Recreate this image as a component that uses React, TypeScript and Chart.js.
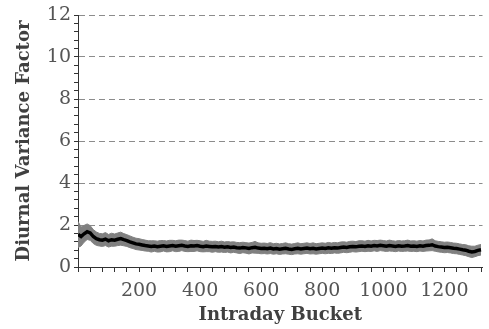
import React, { useEffect, useRef } from "react";
import { Chart, registerables } from "chart.js";

Chart.register(...registerables);

// Intraday bucket index (every 10 buckets)
const buckets: number[] = [];
for (let b = 0; b <= 1320; b += 10) buckets.push(b);

// Mean diurnal variance factor
const meanFactor: number[] = [
  1.55, 1.45, 1.58, 1.68, 1.62, 1.45, 1.35, 1.30, 1.28, 1.33,
  1.25, 1.30, 1.28, 1.32, 1.35, 1.30, 1.26, 1.20, 1.15, 1.10,
  1.08, 1.05, 1.02, 1.00, 0.98, 1.00, 0.97, 0.99, 1.01, 0.98,
  1.00, 1.02, 0.99, 1.01, 1.03, 1.00, 0.98, 1.01, 1.00, 1.02,
  0.99, 0.97, 1.00, 0.98, 0.96, 0.98, 0.95, 0.97, 0.94, 0.96,
  0.93, 0.95, 0.92, 0.90, 0.93, 0.91, 0.88, 0.92, 0.94, 0.90,
  0.88, 0.89, 0.87, 0.90, 0.86, 0.88, 0.85, 0.87, 0.89, 0.86,
  0.84, 0.87, 0.89, 0.86, 0.88, 0.90, 0.87, 0.89, 0.86, 0.88,
  0.90, 0.88, 0.91, 0.89, 0.92, 0.90, 0.93, 0.95, 0.93, 0.96,
  0.98, 0.96, 0.99, 1.00, 0.98, 1.01, 0.99, 1.02, 1.00, 1.03,
  1.01, 0.99, 1.02, 1.00, 0.98, 1.01, 0.99, 1.00, 1.02, 0.99,
  1.00, 0.98, 1.01, 0.99, 1.02, 1.03, 1.06, 1.00, 0.97, 0.95,
  0.93, 0.94, 0.92, 0.89, 0.88, 0.85, 0.82, 0.80, 0.75, 0.72,
  0.74, 0.79, 0.82,
];

// Half-width of the grey band
const bandHalfWidth: number[] = [
  0.62, 0.45, 0.40, 0.37, 0.35, 0.33, 0.32, 0.30, 0.30, 0.31,
  0.30, 0.31, 0.29, 0.30, 0.31, 0.29, 0.28, 0.28, 0.27, 0.27,
  0.27, 0.26, 0.26, 0.25, 0.27, 0.25, 0.26, 0.27, 0.25, 0.26,
  0.27, 0.25, 0.26, 0.27, 0.25, 0.26, 0.25, 0.27, 0.26, 0.25,
  0.26, 0.25, 0.27, 0.25, 0.26, 0.25, 0.25, 0.26, 0.25, 0.25,
  0.26, 0.25, 0.25, 0.26, 0.25, 0.25, 0.26, 0.25, 0.28, 0.25,
  0.25, 0.25, 0.25, 0.26, 0.25, 0.25, 0.25, 0.25, 0.26, 0.25,
  0.25, 0.25, 0.26, 0.25, 0.25, 0.25, 0.25, 0.26, 0.25, 0.25,
  0.25, 0.25, 0.26, 0.25, 0.25, 0.25, 0.26, 0.25, 0.25, 0.26,
  0.25, 0.25, 0.26, 0.25, 0.25, 0.26, 0.25, 0.25, 0.26, 0.25,
  0.25, 0.25, 0.26, 0.25, 0.25, 0.25, 0.25, 0.25, 0.26, 0.25,
  0.25, 0.25, 0.25, 0.25, 0.26, 0.26, 0.28, 0.25, 0.25, 0.25,
  0.25, 0.25, 0.25, 0.25, 0.25, 0.25, 0.25, 0.26, 0.26, 0.27,
  0.25, 0.25, 0.25,
];

const xTickLabels = [200, 400, 600, 800, 1000, 1200];
const yTickLabels = [0, 2, 4, 6, 8, 10, 12];

const isMultiple = (v: number, m: number) => Math.abs(v / m - Math.round(v / m)) < 1e-6;

export default function App() {
  const ref = useRef<HTMLCanvasElement | null>(null);

  useEffect(() => {
    if (!ref.current) return;
    const lower = buckets.map((b, i) => ({ x: b, y: meanFactor[i] - bandHalfWidth[i] }));
    const upper = buckets.map((b, i) => ({ x: b, y: meanFactor[i] + bandHalfWidth[i] }));
    const mean = buckets.map((b, i) => ({ x: b, y: meanFactor[i] }));

    const chart = new Chart(ref.current, {
      type: "line",
      data: {
        datasets: [
          {
            data: lower,
            borderColor: "#808080",
            borderWidth: 1,
            pointRadius: 0,
            fill: false,
            tension: 0,
            order: 2,
          },
          {
            data: upper,
            borderColor: "#808080",
            borderWidth: 1,
            pointRadius: 0,
            backgroundColor: "#808080",
            fill: "-1",
            tension: 0,
            order: 2,
          },
          {
            data: mean,
            borderColor: "#000000",
            borderWidth: 3.5,
            pointRadius: 0,
            fill: false,
            tension: 0,
            order: 0,
          },
        ],
      },
      options: {
        animation: false,
        responsive: false,
        maintainAspectRatio: false,
        layout: { padding: { top: 15, right: 0, left: 0, bottom: 0 } },
        plugins: { legend: { display: false }, tooltip: { enabled: false } },
        scales: {
          x: {
            type: "linear",
            min: 0,
            max: 1325,
            afterFit: (s: any) => {
              s.height = 62;
            },
            afterBuildTicks: (s: any) => {
              const t = [];
              for (let v = 0; v <= 1320; v += 40) t.push({ value: v });
              s.ticks = t;
            },
            ticks: {
              autoSkip: false,
              maxRotation: 0,
              padding: 8,
              color: "#555555",
              font: { family: "DejaVu Serif", size: 19 },
              callback: (v: any) => (xTickLabels.includes(Number(v)) ? String(v) : ""),
            },
            grid: {
              drawOnChartArea: false,
              drawTicks: true,
              tickLength: 5,
              tickColor: "#333333",
              tickWidth: 1,
            },
            border: { color: "#333333", width: 1 },
            title: {
              display: true,
              text: "Intraday Bucket",
              color: "#404040",
              font: { family: "DejaVu Serif", size: 18, weight: "bold" },
              padding: { top: 0, bottom: 3 },
            },
          },
          y: {
            type: "linear",
            min: 0,
            max: 12,
            afterFit: (s: any) => {
              s.width = 78;
            },
            afterBuildTicks: (s: any) => {
              const t = [];
              for (let i = 0; i <= 30; i++) t.push({ value: Math.round(i * 0.4 * 10) / 10 });
              s.ticks = t;
            },
            ticks: {
              autoSkip: false,
              padding: 3,
              color: "#555555",
              font: { family: "DejaVu Serif", size: 19 },
              callback: (v: any) => (yTickLabels.includes(Number(v)) && isMultiple(Number(v), 2) ? String(v) : ""),
            },
            grid: {
              drawTicks: true,
              tickLength: 4,
              tickColor: "#333333",
              color: (ctx: any) => {
                const v = ctx.tick ? ctx.tick.value : 0;
                return v > 0 && isMultiple(v, 2) ? "#8c8c8c" : "rgba(0,0,0,0)";
              },
              lineWidth: 1,
            },
            border: { color: "#333333", width: 1, dash: [6, 4] },
            title: {
              display: true,
              text: "Diurnal Variance Factor",
              color: "#404040",
              font: { family: "DejaVu Serif", size: 18, weight: "bold" },
              padding: { top: 14, bottom: 0 },
            },
          },
        },
      },
    });
    return () => chart.destroy();
  }, []);

  return (
    <div style={{ position: "absolute", left: 0, top: 0, width: 489, height: 329, background: "#fff" }}>
      <canvas ref={ref} width={489} height={329} style={{ width: 489, height: 329 }} />
    </div>
  );
}
